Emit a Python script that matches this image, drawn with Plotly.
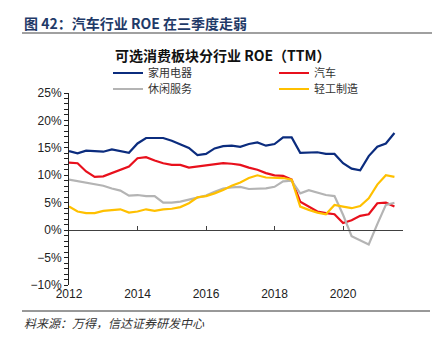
import plotly.graph_objects as go

# quarterly data 2012Q1 .. 2021Q3
periods = [2012 + i * 0.25 for i in range(39)]
appliances = [14.4, 14.0, 14.5, 14.4, 14.3, 14.7, 14.4, 14.1, 15.8, 16.8, 16.8, 16.8, 16.3,
              15.7, 15.0, 13.7, 13.9, 14.9, 15.3, 15.4, 15.2, 15.7, 16.0, 15.4, 15.7, 16.9,
              16.9, 14.1, 14.1, 14.2, 13.9, 13.9, 12.2, 11.2, 10.9, 13.5, 15.2, 15.8, 17.7]
auto = [12.3, 12.2, 10.7, 9.7, 9.8, 10.4, 11.1, 11.6, 13.1, 13.3, 12.7, 12.2, 11.9,
        11.9, 11.4, 11.6, 11.7, 11.9, 12.2, 12.1, 11.9, 11.4, 11.0, 10.4, 10.0, 9.9,
        9.2, 5.2, 4.3, 3.4, 3.1, 2.9, 1.3, 1.8, 2.6, 2.9, 4.9, 5.0, 4.3]
leisure = [9.2, 8.9, 8.7, 8.4, 8.1, 7.6, 7.2, 6.3, 6.4, 6.2, 6.2, 5.0, 5.0,
           5.2, 5.6, 6.0, 6.3, 7.0, 7.6, 7.8, 7.9, 7.5, 7.5, 7.6, 7.9, 8.9,
           9.0, 6.7, 7.3, 6.8, 6.4, 6.2, 2.8, -1.1, -1.8, -2.6, 1.1, 4.6, 5.0]
light = [4.3, 3.4, 3.1, 3.1, 3.5, 3.7, 3.8, 3.2, 3.4, 3.8, 3.5, 3.8, 3.9,
         4.2, 4.9, 6.0, 6.2, 6.7, 7.3, 8.1, 8.7, 9.5, 10.0, 9.6, 9.5, 9.5,
         9.2, 4.3, 3.7, 3.2, 2.9, 4.6, 4.3, 4.0, 4.4, 5.8, 8.3, 10.0, 9.7]

series_names = ["家用电器", "汽车", "休闲服务", "轻工制造"]
series_colors = ["#0B2C7E", "#E8101C", "#B4B4B4", "#FFC000"]
series_legend = ["legend", "legend2", "legend3", "legend4"]
year_ticks = [2012, 2014, 2016, 2018, 2020]
year_labels = ["2012", "2014", "2016", "2018", "2020"]

CJK = "Noto Sans CJK SC"
LAT = "Liberation Sans"

W = 334.0
H = 192.0
def px_x(p):
    return (p - 69) / W
def px_y(p):
    return (285 - p) / H

fig = go.Figure()
for name, vals, col, lg in zip(series_names, [appliances, auto, leisure, light],
                               series_colors, series_legend):
    fig.add_trace(go.Scatter(x=periods, y=vals, mode="lines", name=name,
                             line=dict(color=col, width=2.2), legend=lg))

# helper trace for zero-line axis
fig.add_trace(go.Scatter(x=[2012], y=[None], xaxis="x2", showlegend=False,
                         hoverinfo="skip"))

legend_pos = {"legend": (108, 73), "legend2": (274, 73),
              "legend3": (108, 89), "legend4": (274, 89)}
legend_layout = {}
for key, (lx, ly) in legend_pos.items():
    legend_layout[key] = dict(x=px_x(lx), xanchor="left", y=px_y(ly), yanchor="middle",
                              font=dict(family=CJK, size=11, color="#333"),
                              bgcolor="rgba(0,0,0,0)", borderwidth=0)

fig.update_layout(
    width=437, height=343,
    margin=dict(l=69, r=34, t=93, b=58),
    paper_bgcolor="white", plot_bgcolor="white",
    showlegend=True,
    xaxis=dict(range=[2012, 2021.75], tickvals=year_ticks, ticktext=year_labels,
               showline=False, showgrid=False, zeroline=False, ticks="",
               tickfont=dict(family=LAT, size=12, color="#222")),
    xaxis2=dict(range=[2012, 2021.75], overlaying="x", anchor="free",
                position=10 / 35, tickvals=year_ticks, showticklabels=False,
                showline=True, linecolor="#404040", linewidth=1.3,
                ticks="inside", ticklen=4, tickcolor="#404040",
                showgrid=False, zeroline=False),
    yaxis=dict(range=[-10, 25], dtick=5, ticksuffix="%", showgrid=False,
               zeroline=False, showline=True, linecolor="#222", linewidth=1,
               ticks="outside", ticklen=4, tickcolor="#222",
               minor=dict(dtick=1, ticks="outside", ticklen=4, tickcolor="#222"),
               tickfont=dict(family=LAT, size=12, color="#222")),
    **legend_layout,
)

fig.add_annotation(text="<b>图 42：汽车行业 ROE 在三季度走弱</b>", xref="paper", yref="paper",
                   x=px_x(22), y=px_y(23), xanchor="left", yanchor="middle",
                   showarrow=False, font=dict(family=CJK, size=14, color="#1F3A68"))
fig.add_annotation(text="<b>可选消费板块分行业 ROE（TTM）</b>", xref="paper", yref="paper",
                   x=px_x(223), y=px_y(55), xanchor="center", yanchor="middle",
                   showarrow=False, font=dict(family=CJK, size=14, color="#111"))
fig.add_annotation(text="<i>料来源：万得，信达证券研发中心</i>", xref="paper", yref="paper",
                   x=px_x(22), y=px_y(322), xanchor="left", yanchor="middle",
                   showarrow=False, font=dict(family=CJK, size=12, color="#333"))
fig.add_shape(type="line", xref="paper", yref="paper", x0=px_x(22), x1=px_x(432),
              y0=px_y(33), y1=px_y(33), line=dict(color="#808080", width=1.5))
fig.add_shape(type="line", xref="paper", yref="paper", x0=px_x(22), x1=px_x(430),
              y0=px_y(311), y1=px_y(311), line=dict(color="#333", width=1))

fig.write_html("out.html")
